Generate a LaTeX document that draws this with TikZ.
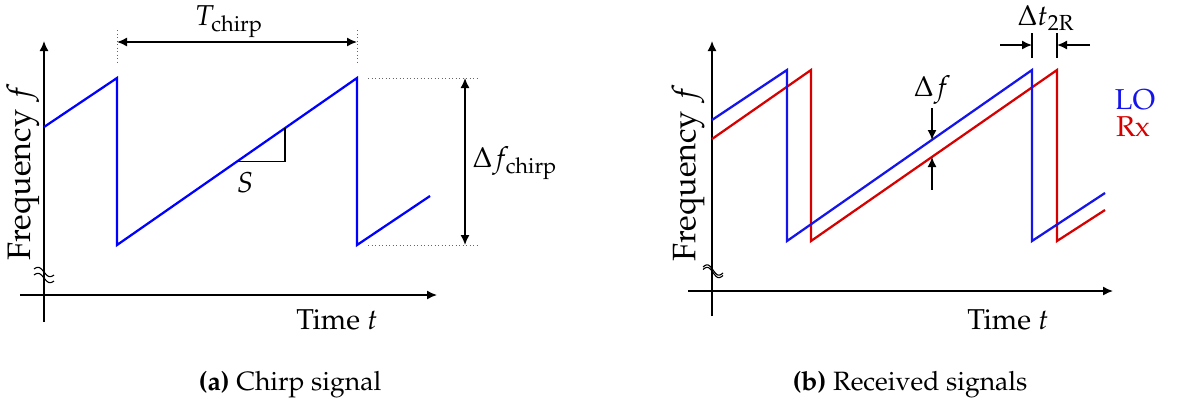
\documentclass[tikz,border=0pt]{standalone}
\usepackage[T1]{fontenc}
\usepackage{mathpazo}
\usepackage{amsmath}
\usetikzlibrary{arrows.meta}
\definecolor{loblue}{RGB}{20,20,235}
\definecolor{rxred}{RGB}{215,0,0}
\begin{document}
\begin{tikzpicture}[x=0.4pt,y=-0.4pt,
  axis/.style={line width=0.6pt,-{Latex[length=4pt,width=3.6pt]}},
  sig/.style={line width=0.9pt,line join=miter},
  dimarrow/.style={line width=0.6pt,{Latex[length=4pt,width=3.6pt]}-{Latex[length=4pt,width=3.6pt]}},
  onearrow/.style={line width=0.6pt,-{Latex[length=4pt,width=3.6pt]}},
  guide/.style={densely dotted,line width=0.4pt,gray!80!black},
  tickline/.style={line width=0.5pt},
  brk/.style={line width=0.45pt},
  lbl/.style={inner sep=0pt,font=\fontsize{11.5}{14}\selectfont},
  freqlbl/.style={inner sep=0pt,rotate=90,font=\fontsize{13}{15}\selectfont},
  captext/.style={inner sep=0pt,font=\fontsize{10.6}{13}\selectfont}
]
\useasboundingbox (0,0) rectangle (1177,407);

% ================= panel (a) =================
\coordinate (ay0) at (44,322);
\coordinate (ay1) at (44,41);
\coordinate (ax0) at (20,295);
\coordinate (ax1) at (437,295);
\draw[axis] (ay0) -- (ay1);
\draw[axis] (ax0) -- (ax1);
\draw[brk,domain=-10:10,samples=40,smooth,variable=\t] plot ({44+\t},{272+0.3*\t+3*sin(18*\t)});
\draw[brk,domain=-10:10,samples=40,smooth,variable=\t] plot ({44+\t},{278+0.3*\t+3*sin(18*\t)});

\coordinate (a0) at (44,127);
\coordinate (a1) at (117,78);
\coordinate (a2) at (117,245);
\coordinate (a3) at (357,78);
\coordinate (a4) at (357,245);
\coordinate (a5) at (430,196);
\draw[sig,blue] (a0) -- (a1) -- (a2) -- (a3) -- (a4) -- (a5);

% slope triangle
\coordinate (s0) at (237,161.5);
\coordinate (s1) at (285,161.5);
\coordinate (s2) at (285,128);
\draw[line width=0.5pt] (s0) -- (s1) -- (s2);
\node[lbl] (slab) at (245,183) {$S$};

% T_chirp
\coordinate (tl0) at (117,30);
\coordinate (tl1) at (117,63);
\coordinate (tr0) at (357,30);
\coordinate (tr1) at (357,63);
\draw[guide] (tl0) -- (tl1);
\draw[guide] (tr0) -- (tr1);
\coordinate (tA) at (117,42);
\coordinate (tB) at (357,42);
\draw[dimarrow] (tA) -- (tB);
\node[lbl] (tlab) at (229,22) {$T_{\text{chirp}}$};

% Delta f_chirp
\coordinate (ft0) at (368,78);
\coordinate (ft1) at (478,78);
\coordinate (fb0) at (368,245);
\coordinate (fb1) at (478,245);
\draw[guide] (ft0) -- (ft1);
\draw[guide] (fb0) -- (fb1);
\coordinate (fA) at (465,78);
\coordinate (fB) at (465,245);
\draw[dimarrow] (fA) -- (fB);
\node[lbl] (flab) at (515,163) {$\Delta f_{\text{chirp}}$};

\node[freqlbl] (afreq) at (23,172) {Frequency $f$};
\node[lbl] (atime) at (337,320) {Time $t$};

% ================= panel (b) =================
\coordinate (by0) at (712,316);
\coordinate (by1) at (712,41);
\coordinate (bx0) at (688,291);
\coordinate (bx1) at (1113,291);
\draw[axis] (by0) -- (by1);
\draw[axis] (bx0) -- (bx1);
\draw[brk,domain=-10:10,samples=40,smooth,variable=\t] plot ({713+\t},{270+0.3*\t+3.5*sin(18*\t)});
\draw[brk,domain=-10:10,samples=40,smooth,variable=\t] plot ({713+\t},{272.5+0.3*\t+3.5*sin(18*\t)});

\coordinate (b0) at (712,120);
\coordinate (b1) at (787,70);
\coordinate (b2) at (787,241);
\coordinate (b3) at (1032,70);
\coordinate (b4) at (1032,241);
\coordinate (b5) at (1105,193);
\coordinate (r0) at (712,139);
\coordinate (r1) at (811,70);
\coordinate (r2) at (811,241);
\coordinate (r3) at (1057,70);
\coordinate (r4) at (1057,241);
\coordinate (r5) at (1105,210);
\draw[sig,rxred] (r0) -- (r1) -- (r2) -- (r3) -- (r4) -- (r5);
\draw[sig,loblue] (b0) -- (b1) -- (b2) -- (b3) -- (b4) -- (b5);

% Delta t_2R
\coordinate (dl0) at (1032,33);
\coordinate (dl1) at (1032,58);
\coordinate (dr0) at (1057,33);
\coordinate (dr1) at (1057,58);
\draw[tickline] (dl0) -- (dl1);
\draw[tickline] (dr0) -- (dr1);
\coordinate (dla) at (1000,45);
\coordinate (dlb) at (1032,45);
\coordinate (dra) at (1090,45);
\coordinate (drb) at (1057,45);
\draw[onearrow] (dla) -- (dlb);
\draw[onearrow] (dra) -- (drb);
\node[lbl] (dtlab) at (1046,18) {$\Delta t_{\text{2R}}$};

% Delta f
\coordinate (ua) at (932,108);
\coordinate (ub) at (932,140);
\coordinate (va) at (932,190);
\coordinate (vb) at (932,157);
\draw[onearrow] (ua) -- (ub);
\draw[onearrow] (va) -- (vb);
\node[lbl] (dflab) at (932,90) {$\Delta f$};

\node[lbl,text=loblue] (lolab) at (1135,100) {LO};
\node[lbl,text=rxred] (rxlab) at (1133,127) {Rx};

\node[freqlbl] (bfreq) at (688,173) {Frequency $f$};
\node[lbl] (btime) at (1008,320) {Time $t$};

% captions
\node[captext] (capa) at (290,385) {\textbf{(a)} Chirp signal};
\node[captext] (capb) at (910,385) {\textbf{(b)} Received signals};
\end{tikzpicture}
\end{document}
